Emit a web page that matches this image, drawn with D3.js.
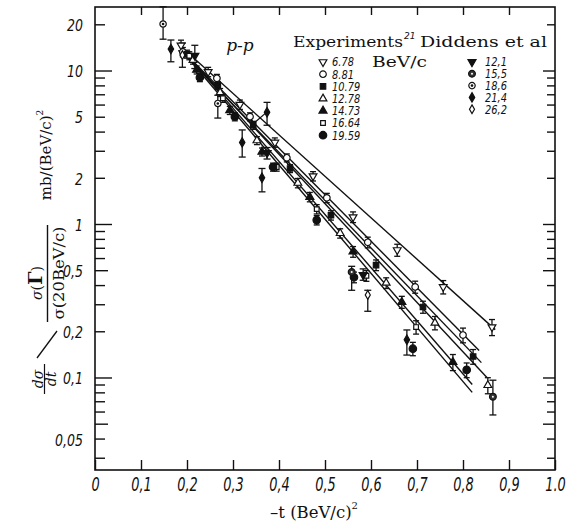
<!DOCTYPE html>
<html>
<head>
<meta charset="utf-8">
<title>p-p elastic scattering</title>
<script src="https://d3js.org/d3.v7.min.js"></script>
<style>
  body { margin: 0; background: #fff; }
  svg { display: block; }
</style>
</head>
<body>
<script>
// ---- values ----
// axis ticks
var xTicks = [0, 0.1, 0.2, 0.3, 0.4, 0.5, 0.6, 0.7, 0.8, 0.9, 1.0];
var xTickLabels = ["0", "0,1", "0,2", "0,3", "0,4", "0,5", "0,6", "0,7", "0,8", "0,9", "1.0"];
var yLabelTicks = [20, 10, 5, 2, 1, 0.5, 0.2, 0.1, 0.05];
var yTickLabels = ["20", "10", "5", "2", "1", "0,5", "0,2", "0,1", "0,05"];
var yMinorTicks = [9, 8, 7, 6, 4, 3, 0.9, 0.8, 0.7, 0.6, 0.4, 0.3, 0.09, 0.08, 0.07, 0.06, 0.04, 0.03];

// Experiments (ref. 21): [ -t, dsigma/dt, relative error ]
var exp678 = [[0.187, 14.6, 0.08], [0.246, 9.8, 0.07], [0.315, 6.0, 0.07], [0.391, 3.4, 0.07], [0.474, 2.05, 0.07],
              [0.561, 1.11, 0.08], [0.657, 0.677, 0.09], [0.757, 0.389, 0.1], [0.863, 0.213, 0.12]];
var exp881 = [[0.191, 13.2, 0.07], [0.265, 8.9, 0.06], [0.337, 5.0, 0.06], [0.417, 2.7, 0.06], [0.504, 1.48, 0.07],
              [0.593, 0.76, 0.08], [0.696, 0.389, 0.09], [0.800, 0.189, 0.11]];
var exp1079 = [[0.200, 12.8, 0.06], [0.267, 8.0, 0.06], [0.344, 4.4, 0.06], [0.424, 2.3, 0.06], [0.513, 1.14, 0.07],
               [0.611, 0.54, 0.08], [0.713, 0.288, 0.09], [0.822, 0.137, 0.11]];
var exp1278 = [[0.213, 11.7, 0.06], [0.272, 7.2, 0.06], [0.352, 3.5, 0.06], [0.441, 1.85, 0.07], [0.533, 0.87, 0.07],
               [0.633, 0.413, 0.08], [0.739, 0.227, 0.1], [0.854, 0.089, 0.12]];
var exp1473 = [[0.221, 10.1, 0.06], [0.293, 5.5, 0.06], [0.363, 2.95, 0.06], [0.467, 1.5, 0.07], [0.561, 0.66, 0.08],
               [0.667, 0.31, 0.09], [0.778, 0.126, 0.12]];
var exp1664 = [[0.205, 12.5, 0.06], [0.278, 6.6, 0.06], [0.395, 2.35, 0.06], [0.482, 1.25, 0.07], [0.590, 0.46, 0.08],
               [0.698, 0.213, 0.1]];
var exp1959 = [[0.228, 9.0, 0.06], [0.304, 5.0, 0.06], [0.387, 2.35, 0.06], [0.482, 1.06, 0.07], [0.563, 0.45, 0.08],
               [0.691, 0.154, 0.1], [0.808, 0.112, 0.11]];

// Diddens et al: [ -t, dsigma/dt, low, high ]
var did121 = [[0.217, 12.5, 10.3, 14.6], [0.374, 2.9, 2.65, 3.15], [0.583, 0.466, 0.43, 0.51]];
var did155 = [[0.558, 0.487, 0.37, 0.53], [0.865, 0.075, 0.057, 0.096]];
var did186 = [[0.148, 20.1, 16.0, 26.0], [0.267, 6.1, 4.9, 6.9]];
var did214 = [[0.165, 13.8, 11.4, 15.8], [0.320, 3.4, 2.73, 4.1], [0.363, 2.0, 1.62, 2.3],
              [0.374, 5.35, 4.4, 6.2], [0.678, 0.176, 0.14, 0.204]];
var did262 = [[0.190, 12.6, 10.5, 15.1], [0.593, 0.345, 0.27, 0.37]];

// fitted straight lines: [t0, v0, t1, v1]
var fitLines = [[0.185, 14.5, 0.870, 0.205],
                [0.190, 13.5, 0.835, 0.150],
                [0.190, 13.2, 0.840, 0.125],
                [0.195, 13.0, 0.852, 0.100],
                [0.200, 12.6, 0.820, 0.090],
                [0.200, 12.3, 0.820, 0.080]];
var pointerLine = [[0.341, 4.42], [0.374, 5.38]];

var expLabels = ["6.78", "8.81", "10.79", "12.78", "14.73", "16.64", "19.59"];
var didLabels = ["12,1", "15,5", "18,6", "21,4", "26,2"];

// ---- drawing ----
var W = 579, H = 525;
var plotL = 95, plotR = 555, plotT = 7, plotB = 470;
var ink = "#111";

var svg = d3.select("body").append("svg").attr("width", W).attr("height", H);

var x = d3.scaleLinear().domain([0, 1]).range([plotL, plotR]);
var y = d3.scaleLog().domain([0.02496, 25.93]).range([plotB, plotT]);

var isDecade = function(d) { return d === 10 || d === 1 || d === 0.1; };

// frame
svg.append("rect").attr("x", plotL).attr("y", plotT).attr("width", plotR - plotL).attr("height", plotB - plotT)
  .attr("fill", "none").attr("stroke", ink).attr("stroke-width", 1.6);

var tickFont = "'DejaVu Sans', sans-serif";

// left axis with labels
var yAll = yLabelTicks.concat(yMinorTicks);
var gl = svg.append("g").attr("transform", "translate(" + plotL + ",0)")
  .call(d3.axisLeft(y).tickValues(yAll).tickSize(-10).tickPadding(12)
    .tickFormat(function(d) { var i = yLabelTicks.indexOf(d); return i < 0 ? "" : yTickLabels[i]; }));
gl.select(".domain").remove();
gl.selectAll(".tick line").attr("stroke", ink).attr("stroke-width", 1.4)
  .attr("x2", function(d) { return isDecade(d) ? 17 : (d === 0.5 || d === 0.05 ? 13 : 10); });
gl.selectAll(".tick text").attr("font-family", tickFont).attr("font-style", "italic")
  .attr("font-size", 16.5).attr("fill", ink)
  .attr("transform", "scale(0.76,1)").attr("x", -12 / 0.76)
  .attr("dy", function(d) { return d === 0.05 ? "1.35em" : "0.38em"; });

// right axis
var gr = svg.append("g").attr("transform", "translate(" + plotR + ",0)")
  .call(d3.axisRight(y).tickValues(yAll).tickSize(-8).tickFormat(""));
gr.select(".domain").remove();
gr.selectAll(".tick line").attr("stroke", ink).attr("stroke-width", 1.4)
  .attr("x2", function(d) { return isDecade(d) || d === 0.5 || d === 0.05 ? -12 : -8; });

// bottom axis with labels
var gb = svg.append("g").attr("transform", "translate(0," + plotB + ")")
  .call(d3.axisBottom(x).tickValues(xTicks).tickSize(-10).tickPadding(8)
    .tickFormat(function(d, i) { return xTickLabels[i]; }));
gb.select(".domain").remove();
gb.selectAll(".tick line").attr("stroke", ink).attr("stroke-width", 1.4);
gb.selectAll(".tick text").attr("font-family", tickFont).attr("font-style", "italic")
  .attr("font-size", 19).attr("fill", ink).attr("transform", "scale(0.68,1)");

// top axis
var gt = svg.append("g").attr("transform", "translate(0," + plotT + ")")
  .call(d3.axisTop(x).tickValues(xTicks.slice(1, 10)).tickSize(-8).tickFormat(""));
gt.select(".domain").remove();
gt.selectAll(".tick line").attr("stroke", ink).attr("stroke-width", 1.4);

// fitted lines
var line = d3.line().x(function(d) { return x(d[0]); }).y(function(d) { return y(d[1]); });
svg.append("g").selectAll("path").data(fitLines).enter().append("path")
  .attr("d", function(d) { return line([[d[0], d[1]], [d[2], d[3]]]); })
  .attr("fill", "none").attr("stroke", ink).attr("stroke-width", 1.4);
svg.append("path").attr("d", line(pointerLine)).attr("fill", "none").attr("stroke", ink).attr("stroke-width", 1.2);

// markers
function marker(g, kind, px, py) {
  var s = g.append("g").attr("transform", "translate(" + px + "," + py + ")");
  var sym = function(type, size, fill, rot) {
    s.append("path").attr("d", d3.symbol().type(type).size(size)())
      .attr("transform", rot ? "rotate(" + rot + ")" : null)
      .attr("fill", fill).attr("stroke", ink).attr("stroke-width", 1.2);
  };
  switch (kind) {
    case "triDownOpen": sym(d3.symbolTriangle, 26, "#fff", 180); break;
    case "circleOpen": sym(d3.symbolCircle, 34, "#fff"); break;
    case "squareFilled": sym(d3.symbolSquare, 30, ink); break;
    case "triUpOpen": sym(d3.symbolTriangle, 26, "#fff"); break;
    case "triUpFilled": sym(d3.symbolTriangle, 28, ink); break;
    case "squareOpen": sym(d3.symbolSquare, 22, "#fff"); break;
    case "circleFilled": sym(d3.symbolCircle, 44, ink); break;
    case "triDownFilled": sym(d3.symbolTriangle, 28, ink, 180); break;
    case "dotDark":
      sym(d3.symbolCircle, 36, "#333");
      s.append("circle").attr("r", 1).attr("fill", "#fff"); break;
    case "dotLight":
      sym(d3.symbolCircle, 32, "#fff");
      s.append("circle").attr("r", 1.3).attr("fill", ink); break;
    case "diamondFilled": sym(d3.symbolDiamond, 26, ink); break;
    case "diamondOpen": sym(d3.symbolDiamond, 22, "#fff"); break;
  }
}

function errorBar(g, px, y0, y1, cap) {
  g.append("line").attr("x1", px).attr("x2", px).attr("y1", y0).attr("y2", y1)
    .attr("stroke", ink).attr("stroke-width", 1.3);
  [y0, y1].forEach(function(yy) {
    g.append("line").attr("x1", px - cap).attr("x2", px + cap).attr("y1", yy).attr("y2", yy)
      .attr("stroke", ink).attr("stroke-width", 1.3);
  });
}

var expSeries = [
  { data: exp678, kind: "triDownOpen" }, { data: exp881, kind: "circleOpen" },
  { data: exp1079, kind: "squareFilled" }, { data: exp1278, kind: "triUpOpen" },
  { data: exp1473, kind: "triUpFilled" }, { data: exp1664, kind: "squareOpen" },
  { data: exp1959, kind: "circleFilled" }
];
var didSeries = [
  { data: did121, kind: "triDownFilled" }, { data: did155, kind: "dotDark" },
  { data: did186, kind: "dotLight" }, { data: did214, kind: "diamondFilled" },
  { data: did262, kind: "diamondOpen" }
];

var gp = svg.append("g");
expSeries.forEach(function(s) {
  s.data.forEach(function(d) {
    errorBar(gp, x(d[0]), y(d[1] * (1 - d[2])), y(d[1] * (1 + d[2])), 3);
  });
});
didSeries.forEach(function(s) {
  s.data.forEach(function(d) { errorBar(gp, x(d[0]), y(d[2]), y(d[3]), 3.5); });
});
expSeries.concat(didSeries).forEach(function(s) {
  s.data.forEach(function(d) { marker(gp, s.kind, x(d[0]), y(d[1])); });
});

// ---- texts ----
var serif = "'DejaVu Serif', 'Liberation Serif', serif";

svg.append("text").attr("x", 240).attr("y", 51).attr("text-anchor", "middle")
  .attr("font-family", serif).attr("font-style", "italic").attr("font-size", 17).attr("fill", ink).text("p-p");

svg.append("text").attr("x", 293).attr("y", 47).attr("font-family", serif).attr("font-size", 15)
  .attr("fill", ink).attr("textLength", 110).attr("lengthAdjust", "spacingAndGlyphs").text("Experiments");
svg.append("text").attr("x", 404).attr("y", 39).attr("font-family", tickFont).attr("font-style", "italic")
  .attr("font-size", 9).attr("fill", ink).text("21");
svg.append("text").attr("x", 420).attr("y", 47).attr("font-family", serif).attr("font-size", 15)
  .attr("fill", ink).attr("textLength", 127).attr("lengthAdjust", "spacingAndGlyphs").text("Diddens et al");
svg.append("text").attr("x", 372).attr("y", 67).attr("font-family", serif).attr("font-size", 15)
  .attr("fill", ink).attr("textLength", 55).attr("lengthAdjust", "spacingAndGlyphs").text("BeV/c");

// legend entries
var gLeg = svg.append("g");
expSeries.forEach(function(s, i) {
  var cy = 62 + i * 12.2;
  marker(gLeg, s.kind, 323, cy);
  gLeg.append("text").attr("transform", "translate(332," + (cy + 4.3) + ") scale(0.82,1)")
    .attr("font-family", tickFont).attr("font-style", "italic").attr("font-size", 12).attr("fill", ink)
    .text(expLabels[i]);
});
didSeries.forEach(function(s, i) {
  var cy = 62 + i * 11.8;
  marker(gLeg, s.kind, 472, cy);
  gLeg.append("text").attr("transform", "translate(485," + (cy + 4.3) + ") scale(0.82,1)")
    .attr("font-family", tickFont).attr("font-style", "italic").attr("font-size", 12).attr("fill", ink)
    .text(didLabels[i]);
});

// x axis title
var xt = svg.append("text").attr("x", 270).attr("y", 518).attr("font-family", serif).attr("font-size", 16.5).attr("fill", ink);
xt.append("tspan").text("\u2013t  (BeV/c)");
xt.append("tspan").attr("font-size", 10).attr("dy", -9).text("2");

// y axis title (rotated pieces)
function rot(px, py) { return "translate(" + px + "," + py + ") rotate(-90)"; }
var gy = svg.append("g").attr("fill", ink);
gy.append("text").attr("transform", rot(43, 379)).attr("text-anchor", "middle")
  .attr("font-family", serif).attr("font-style", "italic").attr("font-size", 14).text("d\u03c3");
gy.append("line").attr("x1", 44.5).attr("x2", 44.5).attr("y1", 364).attr("y2", 394).attr("stroke", ink).attr("stroke-width", 1.2);
gy.append("text").attr("transform", rot(56, 379)).attr("text-anchor", "middle")
  .attr("font-family", serif).attr("font-style", "italic").attr("font-size", 14).text("dt");
gy.append("line").attr("x1", 37).attr("y1", 358).attr("x2", 57).attr("y2", 331).attr("stroke", ink).attr("stroke-width", 1.3);

var num = gy.append("text").attr("transform", rot(42, 283)).attr("text-anchor", "middle")
  .attr("font-family", serif).attr("font-size", 14);
num.append("tspan").attr("font-style", "italic").text("\u03c3");
num.append("tspan").text("(");
num.append("tspan").attr("font-size", 19).attr("font-weight", "bold").text("\u0393");
num.append("tspan").text(")");
gy.append("line").attr("x1", 47.5).attr("x2", 47.5).attr("y1", 225).attr("y2", 322).attr("stroke", ink).attr("stroke-width", 1.4);
gy.append("text").attr("transform", rot(64, 273)).attr("text-anchor", "middle")
  .attr("font-family", serif).attr("font-size", 14).attr("textLength", 93).attr("lengthAdjust", "spacingAndGlyphs")
  .text("\u03c3(20BeV/c)");
var unit = gy.append("text").attr("transform", rot(51, 155)).attr("text-anchor", "middle")
  .attr("font-family", serif).attr("font-size", 15);
unit.append("tspan").text("mb/(BeV/c)");
unit.append("tspan").attr("font-size", 9).attr("dy", -8).text("2");
</script>
</body>
</html>
